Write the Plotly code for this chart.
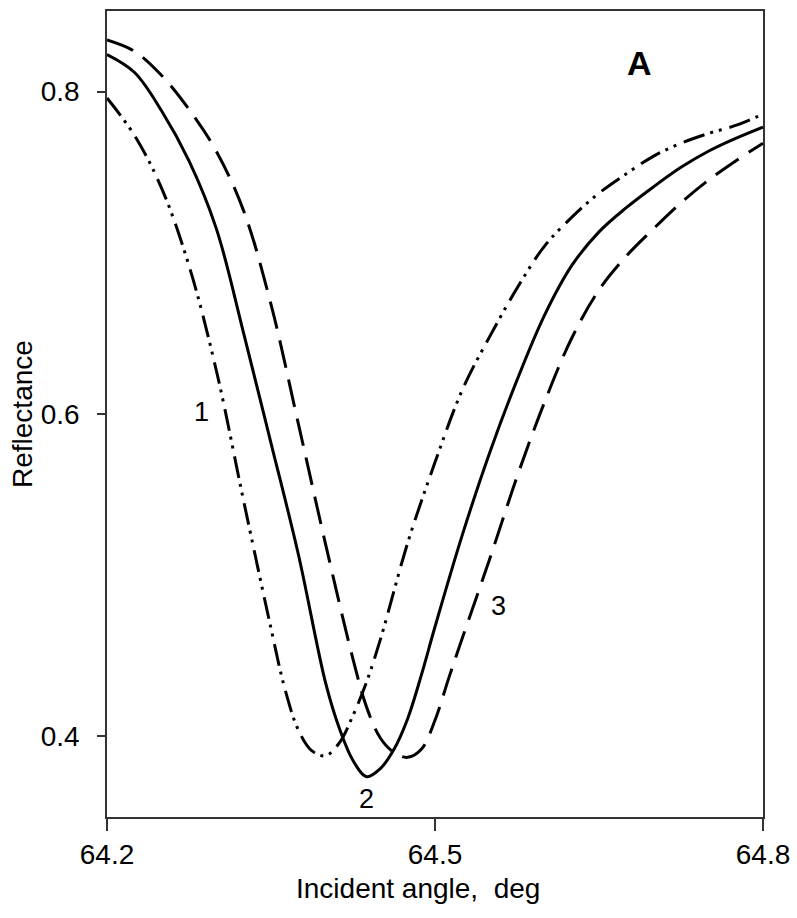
import plotly.graph_objects as go

# Curve 1 (dash-dot-dot)
x1 = [64.200, 64.225, 64.250, 64.275, 64.300, 64.325, 64.350, 64.3625, 64.375, 64.3875,
      64.400, 64.4125, 64.425, 64.4375, 64.450, 64.475, 64.500, 64.525, 64.550, 64.575,
      64.600, 64.625, 64.650, 64.675, 64.700, 64.725, 64.750, 64.775, 64.800]
y1 = [0.796, 0.773, 0.740, 0.692, 0.627, 0.546, 0.467, 0.430, 0.404, 0.391,
      0.388, 0.396, 0.413, 0.434, 0.460, 0.520, 0.570, 0.615, 0.648, 0.678,
      0.704, 0.722, 0.737, 0.749, 0.760, 0.768, 0.774, 0.779, 0.786]

# Curve 2 (solid)
x2 = [64.200, 64.225, 64.250, 64.275, 64.300, 64.325, 64.350, 64.375, 64.400, 64.4125,
      64.425, 64.4375, 64.450, 64.4625, 64.475, 64.4875, 64.500, 64.525, 64.550, 64.575,
      64.600, 64.625, 64.650, 64.675, 64.700, 64.725, 64.750, 64.775, 64.800]
y2 = [0.823, 0.812, 0.788, 0.757, 0.715, 0.650, 0.582, 0.513, 0.433, 0.405,
      0.385, 0.375, 0.380, 0.392, 0.411, 0.438, 0.468, 0.525, 0.576, 0.621,
      0.661, 0.692, 0.713, 0.728, 0.741, 0.753, 0.763, 0.771, 0.778]

# Curve 3 (dashed)
x3 = [64.200, 64.225, 64.250, 64.275, 64.300, 64.325, 64.350, 64.375, 64.400, 64.425,
      64.4375, 64.450, 64.4625, 64.475, 64.4875, 64.500, 64.5125, 64.525, 64.550, 64.575,
      64.600, 64.625, 64.650, 64.675, 64.700, 64.725, 64.750, 64.775, 64.800]
y3 = [0.832, 0.825, 0.810, 0.789, 0.763, 0.726, 0.668, 0.594, 0.519, 0.448,
      0.418, 0.399, 0.390, 0.387, 0.392, 0.410, 0.436, 0.461, 0.510, 0.561,
      0.607, 0.647, 0.677, 0.698, 0.715, 0.731, 0.745, 0.757, 0.768]

x_ticks = [64.2, 64.5, 64.8]
y_ticks = [0.4, 0.6, 0.8]

labels = ["1", "2", "3"]
label_x = [64.286, 64.437, 64.558]
label_y = [0.601, 0.361, 0.481]

FONT = "Liberation Sans, Arial, sans-serif"

fig = go.Figure()
fig.add_trace(go.Scatter(x=x1, y=y1, mode="lines", line=dict(color="black", width=3, dash="22px,6px,3px,6px,3px,8px", shape="spline"), showlegend=False))
fig.add_trace(go.Scatter(x=x2, y=y2, mode="lines", line=dict(color="black", width=3, shape="spline"), showlegend=False))
fig.add_trace(go.Scatter(x=x3, y=y3, mode="lines", line=dict(color="black", width=3, dash="28px,12px", shape="spline"), showlegend=False))

for t, lx, ly in zip(labels, label_x, label_y):
    fig.add_annotation(x=lx, y=ly, text=t, showarrow=False, xanchor="center", yanchor="middle",
                       font=dict(size=27, color="black", family=FONT))

fig.add_annotation(x=0.812, y=0.9355, xref="paper", yref="paper", text="<b>A</b>", showarrow=False,
                   xanchor="center", yanchor="middle",
                   font=dict(size=34, color="black", family=FONT))

# axis titles
fig.add_annotation(x=0.474, y=0, xref="paper", yref="paper", yshift=-71, yanchor="middle",
                   xanchor="center",
                   text="Incident angle,&nbsp; deg", showarrow=False,
                   font=dict(size=28, color="black", family=FONT))
fig.add_annotation(x=0, y=0.5, xref="paper", yref="paper", xshift=-85, xanchor="center",
                   yanchor="middle", textangle=-90, text="Reflectance", showarrow=False,
                   font=dict(size=28, color="black", family=FONT))

fig.update_layout(
    width=797, height=918,
    margin=dict(l=107, r=34, t=11, b=101, autoexpand=False),
    paper_bgcolor="white", plot_bgcolor="white",
    font=dict(family=FONT, size=27, color="black"),
    xaxis=dict(range=[64.2, 64.8], tickvals=x_ticks, ticktext=[str(v) for v in x_ticks],
               showgrid=False, zeroline=False, showline=True, linecolor="#333", linewidth=1.5,
               mirror=True, ticks="outside", ticklen=12, tickcolor="#333", tickwidth=1.5,
               automargin=False, tickfont=dict(size=28)),
    yaxis=dict(range=[0.35, 0.85], tickvals=y_ticks, ticktext=[str(v) for v in y_ticks],
               showgrid=False, zeroline=False, showline=True, linecolor="#333", linewidth=1.5,
               mirror=True, ticks="outside", ticklen=8, tickcolor="#333", tickwidth=1.5,
               ticklabelstandoff=12, automargin=False, tickfont=dict(size=28)),
)

fig.write_html("out.html", config={"displayModeBar": False},
               post_script="document.body.style.margin='0';")
